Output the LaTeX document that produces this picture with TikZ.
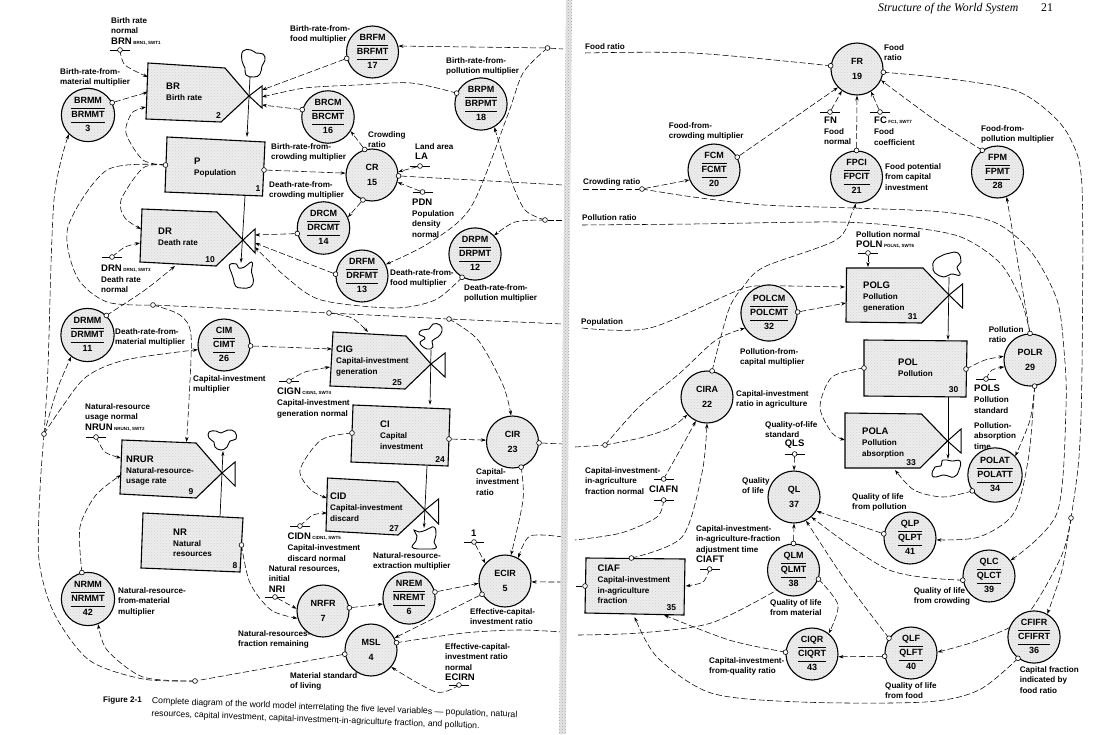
\documentclass[tikz,border=0pt]{standalone}
\usepackage{fontspec}
\setmainfont{Liberation Sans}
\newfontfamily\serifh{Liberation Serif}
\usetikzlibrary{arrows.meta,patterns}
\pgfdeclarelayer{links}
\pgfsetlayers{links,main}
\newcommand{\nm}[1]{{\fontsize{9.5}{10.5}\selectfont #1}}
\newcommand{\sbs}[1]{{\fontsize{4.5}{5}\selectfont\,\,#1}}
\newcommand{\auxc}[6]{\node[varc] (#1) at (#2,#3) {\begin{tabular}{@{}c@{}}#4\\\hline #5\\\hline #6\end{tabular}};}
\newcommand{\ratec}[5]{\node[varc,align=center] (#1) at (#2,#3) {#4\\[3.5pt]#5};}
\newcommand{\tapn}[2]{\node[tapst] (#1) at (#2) {};}
\newcommand{\pinc}[3]{\draw[pinline] (#2-10,#3) -- (#2+10,#3); \node[tapst] (#1) at (#2,#3) {};}
\newcommand{\ports}[1]{\foreach \n/\x/\y in {#1} {\coordinate (\n) at (\x,\y);}}
\newcommand{\cn}[1]{\draw[deplink,deparrow] plot[smooth] coordinates {#1};}
\newcommand{\cp}[1]{\draw[deplink] plot[smooth] coordinates {#1};}
\newcommand{\blob}[3]{\draw[cloudst,shift={(#1,#2)}] plot[smooth cycle,tension=.8] coordinates {#3};}
\setlength{\arrayrulewidth}{.9pt}
\setlength{\tabcolsep}{0pt}
\renewcommand{\arraystretch}{1.2}
\tikzset{
  stipple/.style={preaction={fill=black!7},pattern=crosshatch dots,pattern color=black!18},
  boxst/.style={draw,line width=1.1pt,stipple,line join=miter},
  valvest/.style={draw,line width=1pt,fill=white},
  varc/.style={circle,draw,line width=1.1pt,stipple,minimum size=52pt,inner sep=0pt,font=\bfseries\fontsize{9}{11}\selectfont},
  tapst/.style={circle,draw,fill=white,inner sep=0pt,minimum size=4.8pt,line width=.6pt},
  pinline/.style={line width=.9pt},
  deplink/.style={line width=.55pt,dash pattern=on 6pt off 2.6pt},
  deparrow/.style={-{Stealth[length=5pt,width=3.4pt]}},
  flowln/.style={line width=.7pt,-{Stealth[length=5pt,width=3pt]}},
  cloudst/.style={line width=.9pt,fill=white},
  lab/.style={anchor=north west,inner sep=0pt,align=left,font=\bfseries\fontsize{8.1}{10.6}\selectfont},
  nrm/.style={inner sep=0pt,font=\bfseries\fontsize{8.5}{10}\selectfont},
}
\begin{document}
\begin{tikzpicture}[x=1pt,y=-1pt]
\useasboundingbox (0,0) rectangle (1105,734);
% gutter
\path[preaction={fill=black!10},pattern=crosshatch dots,pattern color=black!35] (566,0) -- (572,0) -- (566,734) -- (559,734) -- cycle;
% ---- level / rate boxes
\draw[boxst] (148,63) -- (225,68) -- (249,96) -- (221,122) -- (146,119) -- cycle;
\draw[boxst] (167,137) -- (265,142) -- (262.5,196) -- (165,192) -- cycle;
\draw[boxst] (142,209) -- (217,212) -- (243,240) -- (216,266) -- (140,262) -- cycle;
\draw[boxst] (333,332) -- (406,336) -- (431,364) -- (405,389) -- (330,386) -- cycle;
\draw[boxst] (353,405) -- (450,409) -- (448,466) -- (351,462) -- cycle;
\draw[boxst] (327.5,478) -- (398,482) -- (425,510) -- (398,535) -- (326,531) -- cycle;
\draw[boxst] (122,440) -- (196,443) -- (222,473) -- (196,498) -- (120,494) -- cycle;
\draw[boxst] (143,513) -- (243,518) -- (240,572) -- (141,568) -- cycle;
\draw[boxst] (846.5,268) -- (923,268) -- (949,295) -- (921.5,323) -- (846,322) -- cycle;
\draw[boxst] (864,340) -- (967,341) -- (966,397) -- (864,396) -- cycle;
\draw[boxst] (845,413) -- (921.5,414) -- (947.5,441) -- (920,468) -- (845,468) -- cycle;
\draw[boxst] (586,558) -- (685,559) -- (684,615) -- (585,613) -- cycle;
% valves
\draw[valvest] (249,96) -- (262,86) -- (262,108) -- cycle;
\draw[valvest] (243,240) -- (255,229) -- (255,253) -- cycle;
\draw[valvest] (431,364) -- (445,353) -- (445,377) -- cycle;
\draw[valvest] (425,510) -- (438.5,499) -- (438.5,524) -- cycle;
\draw[valvest] (222,473) -- (235,462) -- (235,486) -- cycle;
\draw[valvest] (949,295) -- (962.5,284) -- (962.5,308) -- cycle;
\draw[valvest] (947.5,441) -- (961,429) -- (961,453) -- cycle;
% clouds
\blob{253}{63}{(-10,-12)(-2,-13)(3,-10)(10,-9)(12,-3)(9,3)(7,11)(1,14)(-7,12)(-8,5)(-11,-2)}
\blob{241.5}{275}{(-12,-10)(-5,-11)(-3,-7)(3,-8)(8,-12)(11,-12)(10,-3)(12,5)(9,12)(0,13)(-6,11)(-8,4)(-10,-2)}
\blob{430}{337}{(-11,-3)(-8,-7)(-1,-8)(3,-13)(10,-12)(12,-6)(8,0)(2,4)(3,10)(-3,12)(-10,6)(-5,1)}
\blob{222}{440}{(-13,-8)(-6,-9)(-1,-7)(6,-10)(13,-8)(14,-1)(8,1)(5,7)(-1,10)(-7,7)(-8,2)(-13,-2)}
\blob{424}{538}{(-10,-8)(-5,-6)(2,-8)(10,-11)(12,-3)(10,4)(12,10)(2,11)(-6,11)(-12,9)(-8,3)(-7,-2)}
\blob{947}{265}{(-14,2)(-13,-4)(-6,-9)(3,-12)(11,-12)(14,-3)(10,2)(13,10)(4,9)(-3,12)(-12,8)}
\blob{946}{468}{(-14,7)(-11,-1)(-5,-2)(-3,-8)(6,-7)(14,-7)(13,2)(8,9)(-2,7)(-10,9)}
% flow lines
\draw[flowln] (250,77) -- (247,137);
\draw[flowln] (245,196) -- (241,263);
\draw[flowln] (431,350) -- (430,405);
\draw[flowln] (427,466) -- (424,528);
\draw[flowln] (220,517) -- (223,451);
\draw[flowln] (949,277) -- (948,340);
\draw[flowln] (948,397) -- (948,459);
% ---- auxiliaries with tables
\auxc{BRFM}{372.5}{52}{BRFM}{BRFMT}{17}
\auxc{BRPM}{481}{104}{BRPM}{BRPMT}{18}
\auxc{BRCM}{328}{117}{BRCM}{BRCMT}{16}
\auxc{BRMM}{88}{115}{BRMM}{BRMMT}{3}
\auxc{DRCM}{323.5}{228}{DRCM}{DRCMT}{14}
\auxc{DRFM}{362}{276}{DRFM}{DRFMT}{13}
\auxc{DRPM}{475}{254}{DRPM}{DRPMT}{12}
\auxc{DRMM}{87.5}{335}{DRMM}{DRMMT}{11}
\auxc{CIM}{224}{345}{CIM}{CIMT}{26}
\auxc{NRMM}{88}{599}{NRMM}{NRMMT}{42}
\auxc{NREM}{409}{598}{NREM}{NREMT}{6}
\auxc{FCM}{714}{170}{FCM}{FCMT}{20}
\auxc{FPCI}{856.5}{177}{FPCI}{FPCIT}{21}
\auxc{FPM}{997.5}{172}{FPM}{FPMT}{28}
\auxc{POLCM}{769}{313}{POLCM}{POLCMT}{32}
\auxc{POLAT}{995}{475}{POLAT}{POLATT}{34}
\auxc{QLP}{910}{538}{QLP}{QLPT}{41}
\auxc{QLC}{989}{576}{QLC}{QLCT}{39}
\auxc{QLM}{793.5}{570}{QLM}{QLMT}{38}
\auxc{QLF}{911}{653}{QLF}{QLFT}{40}
\auxc{CIQR}{812}{654}{CIQR}{CIQRT}{43}
\auxc{CFIFR}{1034}{637}{CFIFR}{CFIFRT}{36}
% ---- plain auxiliaries
\ratec{CR}{372}{175}{CR}{15}
\ratec{CIR}{512.5}{442}{CIR}{23}
\ratec{ECIR}{505}{581}{ECIR}{5}
\ratec{NRFR}{323}{611}{NRFR}{7}
\ratec{MSL}{371}{650}{MSL}{4}
\ratec{FR}{857}{69}{FR}{19}
\ratec{CIRA}{707}{397}{CIRA}{22}
\ratec{POLR}{1030}{360}{POLR}{29}
\ratec{QL}{794}{497}{QL}{37}
% ---- taps on circles
\tapn{tBRM}{BRMM.27} \tapn{tBRF}{BRFM.194} \tapn{tBRP}{BRPM.156} \tapn{tBRC}{BRCM.164}
\tapn{tCRt}{CR.106} \tapn{tCRb}{CR.250} \tapn{tCRr}{CR.358}
\tapn{tDRC}{DRCM.192} \tapn{tDRF}{DRFM.176} \tapn{tDRP}{DRPM.241} \tapn{tDRM}{DRMM.46}
\tapn{tCIM}{CIM.358} \tapn{tNRM}{NRMM.103} \tapn{tNRF}{NRFR.7} \tapn{tNRE}{NREM.13}
\tapn{tECI}{ECIR.210} \tapn{tMSr}{MSL.16} \tapn{tMSl}{MSL.189}
\tapn{tCIRr}{CIR.358} \tapn{tCIRb}{CIR.289}
\tapn{tFRl}{FR.173} \tapn{tFRr}{FR.353} \tapn{tFCM}{FCM.29} \tapn{tFPC}{FPCI.90} \tapn{tFPM}{FPM.125}
\tapn{tPCM}{POLCM.2} \tapn{tPRt}{POLR.90} \tapn{tPRb}{POLR.280} \tapn{tCRAt}{CIRA.79}
\tapn{tPAT}{POLAT.215} \tapn{tQLP}{QLP.171} \tapn{tQLC}{QLC.189}
\tapn{tQMt}{QLM.90} \tapn{tQMr}{QLM.340} \tapn{tQFt}{QLF.146} \tapn{tQFl}{QLF.187}
\tapn{tCIQ}{CIQR.176} \tapn{tCFI}{CFIFR.233}
% ---- taps on boxes and junctions
\tapn{tPl}{165.5,165} \tapn{tPr}{264,170} \tapn{tNR}{241.5,545} \tapn{tCIl}{352,433} \tapn{tCIr}{449,439}
\tapn{tPOl}{864,368} \tapn{tPOr}{966,369} \tapn{tCAt}{631.4,558} \tapn{tCAl}{585,586}
\tapn{jFood}{547.5,48} \tapn{jPoll}{545,220} \tapn{jA}{153,305} \tapn{jB}{329,313} \tapn{jC}{449,319}
\tapn{jL}{44,434} \tapn{jM}{195,681} \tapn{jCrow}{642,189} \tapn{jCir}{605,445} \tapn{jR}{1071,518}
% ---- constants
\pinc{pBRN}{120}{50} \pinc{pLA}{420}{166} \pinc{pPDN}{422.5}{192} \pinc{pDRN}{112}{257}
\pinc{pCIGN}{289}{381} \pinc{pNRUN}{96}{437} \pinc{pCIDN}{300}{526} \pinc{pOne}{474}{542}
\pinc{pNRI}{275}{597} \pinc{pECIRN}{459}{685}
\pinc{pFN}{830}{112} \pinc{pFC}{880}{112} \pinc{pPOLN}{868}{253} \pinc{pPOLS}{986}{379}
\pinc{pQLS}{794.6}{454} \pinc{pCFa}{663.6}{479} \pinc{pCFb}{663.6}{500} \pinc{pCIAFT}{709.6}{569}
% ---- named ends of connectors
\ports{BRa/148/77,BRb/148/92,BRc/146/107,Va/262/90,Vb/262/97,Vc/262/105,
 DRa/141/229,DRb/140/243,DRc/175/266,Wa/255/235,Wb/255/243,Wc/255/247,
 CIGa/332/349,CIGb/368/332,CIGc/330/367,CIDa/327/498,CIDb/327/513,
 NRa/186.5/442,NRb/121/458,NRc/121/475,
 PGa/845/287,PGb/868/267,PGc/846/303,PAa/845/440,PAb/895/470,
 CAa/664/615,CAb/634.6/617,CAc/685.7/586,
 LFood/563/49,RFood/585/53,LCrow/563/185,RCrow/583/189,LPoll/563/220,RPoll/582/225,
 LPop/563/324,RPop/582/328,LCir/563/444,RCir/575/447,LCf/563/537,RCf/575/540,
 LCa/563/582,RCa/575/586,LMs/563/632,RMs/578/635}
% ---- connectors (under the nodes)
\begin{pgfonlayer}{links}
\cn{(pBRN)(125,65)(BRa)}
\draw[deplink,deparrow] (tBRM) -- (BRb);
\cn{(tPl)(143,160)(126,133)(132,113)(BRc)}
\cn{(tPl)(143,168)(121,200)(125,218)(DRa)}
\cn{(pDRN)(125,247)(DRb)}
\cn{(tDRM)(145,290)(DRc)}
\draw[deplink,deparrow] (tBRF) -- (Va);
\cn{(tBRP)(411,83)(357,85)(305,88)(Vb)}
\draw[deplink,deparrow] (tBRC) -- (Vc);
\draw[deplink,deparrow] (tCRt) -- (BRCM.328);
\draw[deplink,deparrow] (tCRb) -- (DRCM.24);
\draw[deplink,deparrow] (tPr) -- (CR.176);
\draw[deplink,deparrow] (pLA) -- (CR.7);
\draw[deplink,deparrow] (pPDN) -- (CR.344);
\draw[deplink] (tCRr) -- (LCrow);
\draw[deplink,deparrow] (tDRC) -- (Wa);
\draw[deplink,deparrow] (tDRF) -- (Wb);
\cn{(tDRP)(435,300)(393,308)(321,300)(286,277)(Wc)}
\draw[deplink,deparrow] (jFood) -- (BRFM.13);
\draw[deplink] (jFood) -- (LFood);
\cn{(jFood)(523,73)(507,117)(471,207)(429,243)(DRFM.26)}
\cn{(jPoll)(525,210)(511,180)(BRPM.300)}
\cn{(jPoll)(515,222)(DRPM.44)}
\draw[deplink] (jPoll) -- (LPoll);
\cp{(tPl)(107,170)(68,227)(77,277)(107,302)(jA)}
\draw[deplink] (jA) -- (jB);
\draw[deplink] (jB) -- (jC);
\draw[deplink] (jC) -- (LPop);
\cn{(jA)(180,315)(191,335)(189,400)(NRa)}
\cn{(jB)(352,318)(CIGb)}
\cn{(jC)(478,340)(503,385)(CIR.93)}
\cn{(jL)(48,367)(54,200)(BRMM.225)}
\cn{(jL)(57,390)(DRMM.233)}
\cn{(jL)(60,410)(86,377)(125,360)(CIM.190)}
\cp{(jM)(143,679)(89,660)(54,613)(39,560)(40,490)(jL)}
\cn{(jM)(143,677)(107,650)(NRMM.292)}
\draw[deplink] (tMSl) -- (jM);
\draw[deplink,deparrow] (tCIM) -- (CIGa);
\cn{(pCIGN)(305,372)(CIGc)}
\cn{(pNRUN)(105,452)(NRb)}
\cn{(tNRM)(80,527)(96,495)(NRc)}
\cn{(tNR)(250,583)(271,610)(NRFR.196)}
\draw[deplink,deparrow] (pNRI) -- (NRFR.175);
\draw[deplink,deparrow] (tNRF) -- (NREM.193);
\draw[deplink,deparrow] (tNRE) -- (ECIR.185);
\draw[deplink,deparrow] (tECI) -- (MSL.27);
\cp{(tMSr)(464,633)(518,630)(LMs)}
\cn{(pECIRN)(436,692)(MSL.320)}
\draw[deplink,deparrow] (tCIr) -- (CIR.176);
\cn{(tCIl)(321,440)(300,470)(311,490)(CIDa)}
\cn{(pCIDN)(313,515)(CIDb)}
\cn{(tCIRb)(523,500)(ECIR.77)}
\draw[deplink,deparrow] (pOne) -- (ECIR.138);
\cn{(LCf)(530,536)(ECIR.60)}
\draw[deplink,deparrow] (LCa) -- (ECIR.358);
\draw[deplink] (tCIRr) -- (LCir);
% right page
\cp{(RFood)(693,53)(tFRl)}
\draw[deplink] (RCrow) -- (jCrow);
\draw[deplink,deparrow] (jCrow) -- (FCM.202);
\cn{(jCrow)(693,197)(764,205)(853,208)(943,212)(996,223)(1032,253)(1057,300)(1064,350)(1066,407)(1057,513)(QLC.36)}
\cp{(RPoll)(693,224)(836,222)(907,227)(961,237)(1000,263)(1021,300)(tPRt)}
\cp{(tFRr)(943,78)(1014,90)(1050,113)(1071,140)(1082,187)(1082,367)(1079,457)(jR)}
\cn{(jR)(1061,557)(1025,617)(979,640)(QLF.2)}
\cn{(jR)(1062,570)(CFIFR.60)}
\draw[deplink,deparrow] (tFCM) -- (FR.224);
\draw[deplink,deparrow] (pFN) -- (FR.235);
\draw[deplink,deparrow] (pFC) -- (FR.302);
\draw[deplink,deparrow] (tFPC) -- (FR.270);
\cn{(tFPM)(935,120)(FR.335)}
\draw[deplink,deparrow] (tPRt) -- (FPM.290);
\cn{(tCRAt)(728.6,310)(743,287)(764,267)(836,240)(852,213)(FPCI.268)}
\cn{(RPop)(650,328)(739,290)(770,286)(PGa)}
\draw[deplink,deparrow] (pPOLN) -- (PGb);
\draw[deplink,deparrow] (tPCM) -- (PGc);
\cn{(tPOl)(832,377)(820,407)(832,433)(PAa)}
\cn{(tPOr)(985,360)(POLR.172)}
\cn{(pPOLS)(992,370)(POLR.195)}
\cn{(tPRb)(1030,420)(POLAT.43)}
\cn{(tPAT)(943,497)(914,490)(PAb)}
\cn{(tPRb)(1028.6,457)(1014,513)(979,537)(QLP.356)}
\draw[deplink,deparrow] (pQLS) -- (QL.90);
\draw[deplink,deparrow] (tQMt) -- (QL.270);
\draw[deplink,deparrow] (tQLP) -- (QL.328);
\cn{(tQLC)(889,570)(QL.311)}
\cn{(tQFt)(845,580)(QL.297)}
\draw[deplink,deparrow] (tQFl) -- (CIQR.354);
\cn{(tQMr)(838,605)(CIQR.51)}
\cn{(tCIQ)(729,640)(CAa)}
\cn{(tCFI)(979,690)(925,702)(800,702)(711,693)(657,657)(CAb)}
\cn{(tCAt)(682,537)(702,473)(CIRA.270)}
\cn{(pCIAFT)(703,582)(CAc)}
\draw[deplink] (tCAl) -- (RCa);
\cp{(pCFb)(657,517)(621,533)(RCf)}
\cn{(pCFa)(680,450)(CIRA.245)}
\draw[deplink] (RCir) -- (jCir);
\cn{(jCir)(640,438)(670,428)(CIRA.222)}
\cn{(jCir)(639,407)(680,373)(716,340)(POLCM.212)}
\cp{(RMs)(639,633)(711,623)(QLM.230)}
\end{pgfonlayer}
% ---- box texts
\node[lab] (xBR) at (166,83) {\nm{BR}\\Birth rate};
\node[nrm] (nBR) at (218.6,116) {2};
\node[lab] (xP) at (194,158) {\nm{P}\\Population};
\node[nrm] (nP) at (258,189) {1};
\node[lab] (xDR) at (158,228) {\nm{DR}\\Death rate};
\node[nrm] (nDR) at (210,260) {10};
\node[lab] (xCIG) at (336,346) {\nm{CIG}\\Capital-investment\\generation};
\node[nrm] (nCIG) at (397,383) {25};
\node[lab] (xCI) at (380,421) {\nm{CI}\\Capital\\investment};
\node[nrm] (nCI) at (440,460) {24};
\node[lab] (xCID) at (330,493) {\nm{CID}\\Capital-investment\\discard};
\node[nrm] (nCID) at (394,529) {27};
\node[lab] (xNRUR) at (126,456) {\nm{NRUR}\\Natural-resource-\\usage rate};
\node[nrm] (nNRUR) at (191,492) {9};
\node[lab] (xNR) at (173,529) {\nm{NR}\\Natural\\resources};
\node[nrm] (nNR) at (235,566) {8};
\node[lab] (xPOLG) at (863,282) {\nm{POLG}\\Pollution\\generation};
\node[nrm] (nPOLG) at (912.5,317) {31};
\node[lab] (xPOL) at (898,359) {\nm{POL}\\Pollution};
\node[nrm] (nPOL) at (953.6,390) {30};
\node[lab] (xPOLA) at (862,428) {\nm{POLA}\\Pollution\\absorption};
\node[nrm] (nPOLA) at (911,463) {33};
\node[lab] (xCIAF) at (597.5,565) {\nm{CIAF}\\Capital-investment\\in-agriculture\\fraction};
\node[nrm] (nCIAF) at (671.4,608) {35};
% ---- left page labels
\node[lab] (l1) at (111,17) {Birth rate\\normal\\\nm{BRN}\sbs{BRN1, SWT1}};
\node[lab] (l2) at (60,68) {Birth-rate-from-\\material multiplier};
\node[lab] (l3) at (290,25) {Birth-rate-from-\\food multiplier};
\node[lab] (l4) at (446,57) {Birth-rate-from-\\pollution multiplier};
\node[lab] (l5) at (368,131) {Crowding\\ratio};
\node[lab] (l6) at (415,143) {Land area\\\nm{LA}};
\node[lab] (l7) at (271,143) {Birth-rate-from-\\crowding multiplier};
\node[lab] (l8) at (269,181) {Death-rate-from-\\crowding multiplier};
\node[lab] (l9) at (412,199) {\nm{PDN}\\Population\\density\\normal};
\node[lab] (l10) at (101,265) {\nm{DRN}\sbs{DRN1, SWT3}\\Death rate\\normal};
\node[lab] (l11) at (390,269) {Death-rate-from-\\food multiplier};
\node[lab] (l12) at (464,284) {Death-rate-from-\\pollution multiplier};
\node[lab] (l13) at (115,328) {Death-rate-from-\\material multiplier};
\node[lab] (l14) at (193,375) {Capital-investment\\multiplier};
\node[lab] (l15) at (85,403) {Natural-resource\\usage normal\\\nm{NRUN}\sbs{NRUN1, SWT2}};
\node[lab] (l16) at (277,388) {\nm{CIGN}\sbs{CIGN1, SWT4}\\Capital-investment\\generation normal};
\node[lab] (l17) at (476,468) {Capital-\\investment\\ratio};
\node[lab] (l18) at (287.5,533) {\nm{CIDN}\sbs{CIDN1, SWT5}\\Capital-investment\\discard normal};
\node[lab] (l19) at (373,552) {Natural-resource-\\extraction multiplier};
\node[lab] (l20) at (471,530) {\nm{1}};
\node[lab] (l21) at (268.6,565) {Natural resources,\\initial\\\nm{NRI}};
\node[lab] (l22) at (118,587) {Natural-resource-\\from-material\\multiplier};
\node[lab] (l23) at (470,608) {Effective-capital-\\investment ratio};
\node[lab] (l24) at (238,630) {Natural-resources-\\fraction remaining};
\node[lab] (l25) at (445,643) {Effective-capital-\\investment ratio\\normal\\\nm{ECIRN}};
\node[lab] (l26) at (290,672) {Material standard\\of living};
\node[lab] (l27) at (103,696) {Figure 2-1};
\node[lab,font=\fontsize{8.7}{11}\selectfont,rotate=-2.2] (l28) at (152,697) {Complete diagram of the world model interrelating the five level variables --- population, natural};
\node[lab,font=\fontsize{8.7}{11}\selectfont,rotate=-2.2] (l29) at (151.5,709.5) {resources, capital investment, capital-investment-in-agriculture fraction, and pollution.};
% ---- right page labels
\node[lab] (r1) at (585,43) {Food ratio};
\node[lab] (r2) at (884,44) {Food\\ratio};
\node[lab] (r3) at (668.6,122) {Food-from-\\crowding multiplier};
\node[lab] (r4) at (824,117) {\nm{FN}\\Food\\normal};
\node[lab] (r5) at (874,117) {\nm{FC}\sbs{FC1, SWT7}\\Food\\coefficient};
\node[lab] (r6) at (981,125) {Food-from-\\pollution multiplier};
\node[lab] (r7) at (885,163) {Food potential\\from capital\\investment};
\node[lab] (r8) at (583,178) {Crowding ratio};
\node[lab] (r9) at (582,214) {Pollution ratio};
\node[lab] (r10) at (856,231) {Pollution normal\\\nm{POLN}\sbs{POLN1, SWT6}};
\node[lab] (r11) at (581,318) {Population};
\node[lab] (r12) at (740,348) {Pollution-from-\\capital multiplier};
\node[lab] (r13) at (988.6,326) {Pollution\\ratio};
\node[lab] (r14) at (974,385) {\nm{POLS}\\Pollution\\standard};
\node[lab] (r15) at (736,390) {Capital-investment\\ratio in agriculture};
\node[lab] (r16) at (974,422) {Pollution-\\absorption\\time};
\node[lab] (r17) at (765,421) {Quality-of-life\\standard};
\node[nrm,font=\bfseries\fontsize{9.5}{10}\selectfont] (r18) at (794.6,444) {QLS};
\node[lab] (r19) at (742,477) {Quality\\of life};
\node[lab] (r20) at (852,493) {Quality of life\\from pollution};
\node[lab] (r21) at (585,467) {Capital-investment-\\in-agriculture\\fraction normal};
\node[lab] (r22) at (649,486) {\nm{CIAFN}};
\node[lab] (r23) at (696,525) {Capital-investment-\\in-agriculture-fraction\\adjustment time\\\nm{CIAFT}};
\node[lab] (r24) at (770,599) {Quality of life\\from material};
\node[lab] (r25) at (913.6,587) {Quality of life\\from crowding};
\node[lab] (r26) at (709,657) {Capital-investment-\\from-quality ratio};
\node[lab] (r27) at (885,682) {Quality of life\\from food};
\node[lab] (r28) at (1019.6,666) {Capital fraction\\indicated by\\food ratio};
\node[lab,font=\serifh\itshape\fontsize{11.8}{13}\selectfont] (h1) at (878,3) {Structure of the World System};
\node[lab,font=\serifh\fontsize{11.8}{13}\selectfont] (h2) at (1041,3) {21};
\end{tikzpicture}
\end{document}
